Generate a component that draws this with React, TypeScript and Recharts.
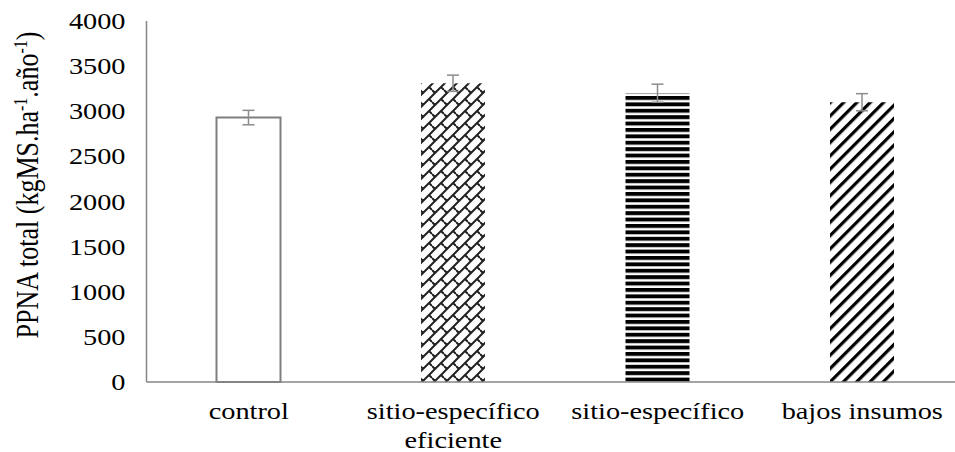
import { Bar, BarChart, Cell, ErrorBar, XAxis, YAxis, Label } from "recharts"

const CATEGORIES = ["control", "sitio-específico\neficiente", "sitio-específico", "bajos insumos"]
const PPNA_TOTAL = [2930, 3310, 3200, 3100]
const PPNA_ERROR = [80, 90, 100, 95]
const Y_TICKS = [0, 500, 1000, 1500, 2000, 2500, 3000, 3500, 4000]
const BOUNDARY_TICKS = [0, 1, 2, 3, 4]

const FILLS = ["#ffffff", "url(#brick)", "url(#hstripe)", "url(#dstripe)"]
const STROKES = ["#7f7f7f", "none", "none", "none"]

const FONT = '"Liberation Serif", "Times New Roman", serif'
const AXIS_COLOR = "#868686"
const STRETCH = 1.18

const data = CATEGORIES.map((name, i) => ({ name, value: PPNA_TOTAL[i], err: PPNA_ERROR[i] }))

function YTick({ x, y, payload }: any) {
	return (
		<g transform={`translate(${x},${y}) scale(${STRETCH},1)`}>
			<text x={0} y={0} dy={8} textAnchor="end" fontSize={24} fontFamily={FONT} fill="#000">
				{payload.value}
			</text>
		</g>
	)
}

function XTick({ x, y, payload }: any) {
	const lines = String(payload.value).split("\n")
	return (
		<g transform={`translate(${x},${y}) scale(${STRETCH},1)`}>
			{lines.map((line, i) => (
				<text key={i} x={0} y={37 + i * 29} textAnchor="middle" fontSize={24} fontFamily={FONT} fill="#000">
					{line}
				</text>
			))}
		</g>
	)
}

function YLabel() {
	return (
		<g transform={`translate(29,185) scale(${STRETCH},1) rotate(-90)`}>
			<text x={0} y={8} textAnchor="middle" fontSize={26} fontFamily={FONT} fill="#000">
				PPNA total (kgMS.ha
				<tspan fontSize={16} dy={-10}>-1</tspan>
				<tspan dy={10}>.año</tspan>
				<tspan fontSize={16} dy={-10}>-1</tspan>
				<tspan dy={10}>)</tspan>
			</text>
		</g>
	)
}

export default function App() {
	return (
		<div style={{ width: 955, height: 452, overflow: "hidden", background: "#fff" }}>
			<style>{`body{margin:0}`}</style>
			<BarChart
				width={975}
				height={452}
				data={data}
				margin={{ top: 21, right: 10.5, left: 0, bottom: 0 }}
				barCategoryGap={0}
			>
				<defs>
					<pattern id="brick" patternUnits="userSpaceOnUse" width={12} height={12}>
						<path
							d="M0,12 L12,0 M-1,1 L1,-1 M11,13 L13,11 M9,3 L12,6 M0,6 L3,9"
							stroke="#222"
							strokeWidth={2}
							fill="none"
						/>
					</pattern>
					<pattern id="hstripe" patternUnits="userSpaceOnUse" width={10} height={6.4}>
						<rect x={0} y={0} width={10} height={3.9} fill="#000" />
					</pattern>
					<pattern id="dstripe" patternUnits="userSpaceOnUse" width={9.4} height={9.4} patternTransform="rotate(45)">
						<rect x={0} y={0} width={3.2} height={9.4} fill="#000" />
					</pattern>
				</defs>
				<XAxis
					xAxisId="bounds"
					type="number"
					domain={[0, 4]}
					ticks={BOUNDARY_TICKS}
					tick={false}
					tickSize={8}
					tickLine={{ stroke: AXIS_COLOR, strokeWidth: 1.5 }}
					axisLine={false}
					height={0}
				/>
				<XAxis
					xAxisId="cat"
					dataKey="name"
					interval={0}
					tick={<XTick />}
					tickLine={false}
					tickSize={0}
					tickMargin={0}
					axisLine={{ stroke: AXIS_COLOR, strokeWidth: 1.5 }}
					height={70}
				/>
				<YAxis
					domain={[0, 4000]}
					ticks={Y_TICKS}
					tick={<YTick />}
					tickLine={false}
					tickSize={0}
					tickMargin={21}
					axisLine={{ stroke: AXIS_COLOR, strokeWidth: 1.5 }}
					width={146.5}
				>
					<Label content={<YLabel />} />
				</YAxis>
				<Bar dataKey="value" xAxisId="cat" barSize={64} isAnimationActive={false}>
					{data.map((d, i) => (
						<Cell key={d.name} fill={FILLS[i]} stroke={STROKES[i]} strokeWidth={2} />
					))}
					<ErrorBar dataKey="err" width={6} stroke="#8c8c8c" strokeWidth={1.5} direction="y" />
				</Bar>
			</BarChart>
		</div>
	)
}
